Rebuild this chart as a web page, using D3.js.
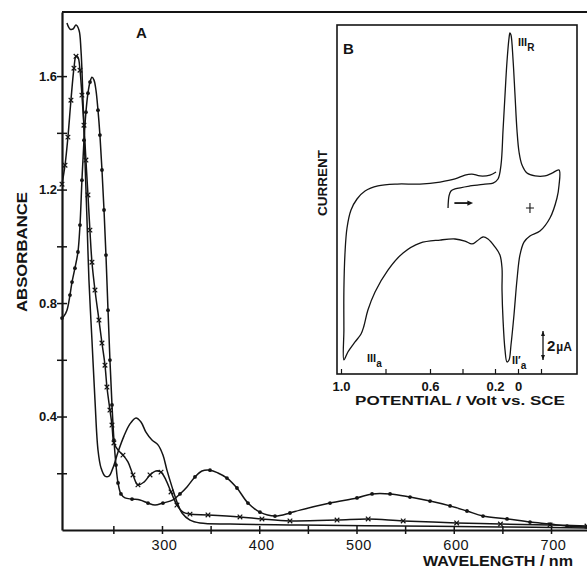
<!DOCTYPE html>
<html><head><meta charset="utf-8">
<script src="https://cdn.jsdelivr.net/npm/d3@7"></script>
<style>body{margin:0;background:#fff}svg{display:block}</style>
</head><body>
<svg id="c" width="587" height="571"></svg>
<script>
// ---------- Panel A data ----------
const wlTicks = [250,300,350,400,450,500,550,600,650,700];
const wlLabels = [300,400,500,600,700];
const absMajor = [0.4,0.8,1.2,1.6];
const absMinor = [0.2,0.6,1.0,1.4];

// plain curve (no markers)
const plainWl  = [202.3,205.4,208.5,211.6,214.7,216.7,218.8,220.8,222.9,224.9,228.0,231.1,234.2,237.3,241.4,245.5,249.6,254.8,260.9,267.1,273.3,278.4,283.5,289.7,295.9,301.0,305.1,310.3,315.4,320.6,328.8,339.1,370,442,545,648,737];
const plainAbs = [1.787,1.766,1.766,1.780,1.762,1.692,1.515,1.304,1.093,0.881,0.670,0.458,0.282,0.219,0.190,0.190,0.219,0.275,0.331,0.374,0.395,0.381,0.345,0.317,0.300,0.264,0.211,0.152,0.099,0.060,0.035,0.025,0.021,0.018,0.014,0.011,0.007];

// curve with cross markers
const crossWl  = [197.2,200.3,203.3,206.4,209.5,211.6,213.6,215.7,217.7,219.8,221.8,223.9,225.9,228.0,231.1,235.2,238.3,241.4,243.4,246.5,248.6,250.6,254.8,259.9,265.0,270.2,275.3,281.5,287.7,293.8,299.0,304.1,309.3,315.4,321.6,328.8,347.3,380.2,402.8,431.6,480,512,548,603,648,699,737];
const crossAbs = [1.219,1.286,1.385,1.515,1.628,1.670,1.667,1.621,1.533,1.427,1.304,1.181,1.057,0.944,0.846,0.740,0.659,0.581,0.504,0.423,0.370,0.307,0.282,0.264,0.240,0.194,0.159,0.169,0.194,0.208,0.204,0.176,0.134,0.088,0.063,0.056,0.053,0.046,0.039,0.032,0.035,0.039,0.032,0.025,0.021,0.018,0.014];

// curve with dot markers
const dotWl  = [197.2,199.2,202.3,205.4,207.5,210.5,213.6,215.7,217.7,219.8,221.8,223.9,226.0,228.0,230.1,232.1,234.2,236.2,238.3,240.4,242.4,244.5,246.5,248.6,250.6,252.7,254.8,257.8,262.0,269.2,277.4,285.6,292.8,301.0,311.3,318.5,325.7,333.9,341.1,349.4,357.6,366.8,377.1,388.4,400.8,416.2,431.6,441.9,472.8,500.5,516,534.5,555.0,575.6,596.2,613.6,630.1,654.8,678.4,699,716.5,737];
const dotAbs = [0.747,0.754,0.775,0.828,0.874,0.923,0.980,1.075,1.233,1.374,1.473,1.540,1.579,1.596,1.586,1.551,1.480,1.392,1.269,1.128,0.969,0.775,0.599,0.441,0.317,0.229,0.166,0.127,0.113,0.109,0.106,0.095,0.088,0.095,0.106,0.127,0.152,0.187,0.208,0.211,0.201,0.183,0.148,0.095,0.063,0.049,0.060,0.070,0.095,0.113,0.127,0.127,0.116,0.102,0.085,0.067,0.049,0.039,0.028,0.021,0.014,0.011];

// ---------- Panel B data (cyclic voltammogram) ----------
const potTicks = [1.0,0.8,0.6,0.4,0.2,0,-0.2];
const potLabels = [1.0,0.6,0.2,0];
const cvPotential = [0.489,0.483,0.471,0.446,0.354,0.262,0.212,0.174,0.148,0.130,0.113,0.096,0.078,0.070,0.061,0.043,0.026,0.009,-0.009,-0.035,-0.078,-0.148,-0.235,-0.296,-0.357,-0.357,-0.339,-0.278,-0.191,-0.104,-0.052,-0.017,0.009,0.035,0.061,0.078,0.096,0.113,0.130,0.139,0.139,0.157,0.200,0.243,0.274,0.311,0.342,0.385,0.446,0.538,0.645,0.721,0.789,0.847,0.879,0.897,0.910,0.937,0.969,0.987,0.987,0.987,0.982,0.973,0.955,0.928,0.892,0.834,0.748,0.645,0.538,0.446,0.385,0.342,0.292,0.231,0.191];
const cvCurrent   = [-1.24,-0.41,-0.07,0.07,0.28,0.41,0.48,0.76,1.72,4.14,6.55,8.83,10.48,10.83,10.69,8.97,6.55,4.14,2.62,1.72,1.17,0.97,0.97,1.17,1.38,0.34,-0.55,-1.93,-2.83,-3.17,-3.59,-4.48,-6.21,-8.62,-10.69,-11.72,-11.86,-11.03,-8.97,-6.90,-5.38,-4.48,-3.93,-3.38,-3.24,-3.52,-3.72,-3.52,-3.38,-3.45,-3.66,-4.34,-5.52,-7.03,-8.28,-9.38,-9.93,-10.48,-11.17,-11.72,-9.66,-6.90,-4.34,-2.62,-1.38,-0.62,-0.07,0.28,0.41,0.41,0.55,0.76,1.03,1.10,0.97,1.03,1.24];

// ---------- drawing ----------
const F = '"Liberation Sans", Arial, Helvetica, sans-serif';
const ink = "#141414";
const svg = d3.select("#c");

const x = d3.scaleLinear().domain([197.2, 737]).range([62, 587]);
const y = d3.scaleLinear().domain([0, 1.826]).range([530, 12]);

// top border
svg.append("line").attr("x1", x(197.2)).attr("x2", x(737)).attr("y1", y(1.826)).attr("y2", y(1.826))
  .attr("stroke", ink).attr("stroke-width", 2);

// bottom axis
const xa = svg.append("g").attr("transform", `translate(0,${y(0)})`)
  .call(d3.axisBottom(x).tickValues(wlTicks).tickSizeOuter(0).tickPadding(9)
    .tickFormat(d => wlLabels.includes(d) ? d : ""));
xa.select(".domain").attr("stroke", ink).attr("stroke-width", 2.2);
xa.selectAll(".tick line").attr("y1", -4).attr("y2", 4).attr("stroke", ink).attr("stroke-width", 1.5);
xa.selectAll(".tick text").attr("font-family", F).attr("font-size", 14.5).attr("fill", ink)
  .attr("letter-spacing", 0.6).attr("y", 20).attr("dy", 0).attr("dx", 2);

// left axis
const ya = svg.append("g").attr("transform", `translate(${x(197.2)},0)`)
  .call(d3.axisLeft(y).tickValues([...absMajor, ...absMinor]).tickSizeOuter(0).tickPadding(2)
    .tickFormat(d => absMajor.includes(d) ? d.toFixed(1) : ""));
ya.select(".domain").attr("stroke", ink).attr("stroke-width", 2.2);
ya.selectAll(".tick line").attr("x1", -5).attr("x2", 5).attr("stroke", ink).attr("stroke-width", 1.5);
ya.selectAll(".tick text").attr("font-family", F).attr("font-size", 13).attr("font-weight", "bold")
  .attr("fill", ink).attr("x", -5);

// axis titles
svg.append("text").attr("transform", `translate(27,252) rotate(-90)`).attr("text-anchor", "middle")
  .attr("font-family", F).attr("font-size", 14).attr("font-weight", "bold").attr("fill", ink)
  .attr("textLength", 120).attr("lengthAdjust", "spacingAndGlyphs").text("ABSORBANCE");
svg.append("text").attr("x", 423).attr("y", 566)
  .attr("font-family", F).attr("font-size", 14).attr("font-weight", "bold").attr("fill", ink)
  .attr("textLength", 150).attr("lengthAdjust", "spacingAndGlyphs").text("WAVELENGTH / nm");
svg.append("text").attr("x", 136).attr("y", 38).attr("font-family", F).attr("font-size", 15)
  .attr("font-weight", "bold").attr("fill", ink).text("A");

// curves
const line = d3.line().x(d => x(d[0])).y(d => y(d[1])).curve(d3.curveCatmullRom.alpha(0.5));
const zip = (a, b) => a.map((v, i) => [v, b[i]]);
const plain = zip(plainWl, plainAbs), cross = zip(crossWl, crossAbs), dots = zip(dotWl, dotAbs);
[plain, cross, dots].forEach(s => svg.append("path").attr("d", line(s)).attr("fill", "none")
  .attr("stroke", ink).attr("stroke-width", 1.5));

function spaced(s, gap) {
  const out = []; let last = null;
  s.forEach(p => {
    const px = x(p[0]), py = y(p[1]);
    if (!last || Math.hypot(px - last[0], py - last[1]) >= gap) { out.push([px, py]); last = [px, py]; }
  });
  return out;
}
spaced(dots, 11).forEach(p => svg.append("circle").attr("cx", p[0]).attr("cy", p[1]).attr("r", 1.9).attr("fill", ink));
spaced(cross, 11).forEach(p => {
  svg.append("path").attr("d", `M${p[0]-2.3},${p[1]-2.3}L${p[0]+2.3},${p[1]+2.3}M${p[0]-2.3},${p[1]+2.3}L${p[0]+2.3},${p[1]-2.3}`)
    .attr("stroke", ink).attr("stroke-width", 1.2);
});

// ---------- Panel B ----------
const ex = d3.scaleLinear().domain([1.0, 0.6, 0.2, 0]).range([341, 430, 495, 518]);
const ey = d3.scaleLinear().domain([0, 2]).range([190, 161]);
const B = svg.append("g");
B.append("rect").attr("x", 337).attr("y", 25).attr("width", 240).attr("height", 349)
  .attr("fill", "#fff").attr("stroke", ink).attr("stroke-width", 1.6);
const ba = B.append("g").attr("transform", "translate(0,374)")
  .call(d3.axisBottom(ex).tickValues(potTicks).tickSizeInner(-5).tickSizeOuter(0)
    .tickFormat(d => potLabels.includes(d) ? (d === 0 ? "0" : d.toFixed(1)) : ""));
ba.select(".domain").remove();
ba.selectAll(".tick line").attr("stroke", ink).attr("stroke-width", 1.2);
ba.selectAll(".tick text").attr("font-family", F).attr("font-size", 13).attr("font-weight", "bold")
  .attr("fill", ink).attr("y", 17).attr("dy", 0);
B.append("text").attr("x", 355).attr("y", 405).attr("font-family", F).attr("font-size", 13)
  .attr("font-weight", "bold").attr("fill", ink).attr("textLength", 210).attr("lengthAdjust", "spacingAndGlyphs")
  .text("POTENTIAL / Volt  vs. SCE");
B.append("text").attr("transform", "translate(327,183) rotate(-90)").attr("text-anchor", "middle")
  .attr("font-family", F).attr("font-size", 12).attr("font-weight", "bold").attr("fill", ink)
  .attr("textLength", 66).attr("lengthAdjust", "spacingAndGlyphs").text("CURRENT");
B.append("text").attr("x", 343).attr("y", 54).attr("font-family", F).attr("font-size", 15)
  .attr("font-weight", "bold").attr("fill", ink).text("B");

const cvLine = d3.line().x(d => ex(d[0])).y(d => ey(d[1])).curve(d3.curveCatmullRom.alpha(0.5));
B.append("path").attr("d", cvLine(zip(cvPotential, cvCurrent))).attr("fill", "none")
  .attr("stroke", ink).attr("stroke-width", 1.3);

// scan-direction arrow
const ay = ey(-0.9);
B.append("line").attr("x1", ex(0.45)).attr("x2", ex(0.355)).attr("y1", ay).attr("y2", ay)
  .attr("stroke", ink).attr("stroke-width", 1.8);
B.append("path").attr("d", `M${ex(0.335)},${ay}L${ex(0.37)},${ay-2.6}L${ex(0.37)},${ay+2.6}Z`).attr("fill", ink);
// starting-potential cross
const px0 = ex(-0.104), py0 = ey(-1.24);
B.append("path").attr("d", `M${px0-4},${py0}L${px0+4},${py0}M${px0},${py0-5}L${px0},${py0+5}`)
  .attr("stroke", ink).attr("stroke-width", 1.1);

// scale bar 2 uA
const sbx = 543, sbTop = 331, sbBot = sbTop + (ey(0) - ey(2));
B.append("line").attr("x1", sbx).attr("x2", sbx).attr("y1", sbTop).attr("y2", sbBot).attr("stroke", ink).attr("stroke-width", 1.3);
B.append("path").attr("d", `M${sbx},${sbTop}L${sbx-2},${sbTop+5}L${sbx+2},${sbTop+5}Z M${sbx},${sbBot}L${sbx-2},${sbBot-5}L${sbx+2},${sbBot-5}Z`).attr("fill", ink);
const sb = B.append("text").attr("x", 547).attr("y", 351).attr("font-family", F).attr("font-weight", "bold").attr("fill", ink);
sb.append("tspan").attr("font-size", 15).text("2");
sb.append("tspan").attr("font-size", 12).attr("dx", 1).text("\u00b5A");

// peak labels
function roman(x0, yb, main, sub) {
  const t = B.append("text").attr("x", x0).attr("y", yb).attr("font-family", F).attr("font-weight", "bold").attr("fill", ink);
  t.append("tspan").attr("font-size", 11).text(main);
  t.append("tspan").attr("font-size", 10).attr("dy", 5).text(sub);
}
roman(518, 46, "III", "R");
roman(367, 362, "III", "a");
roman(512, 364, "II\u2032", "a");
</script>
</body></html>
